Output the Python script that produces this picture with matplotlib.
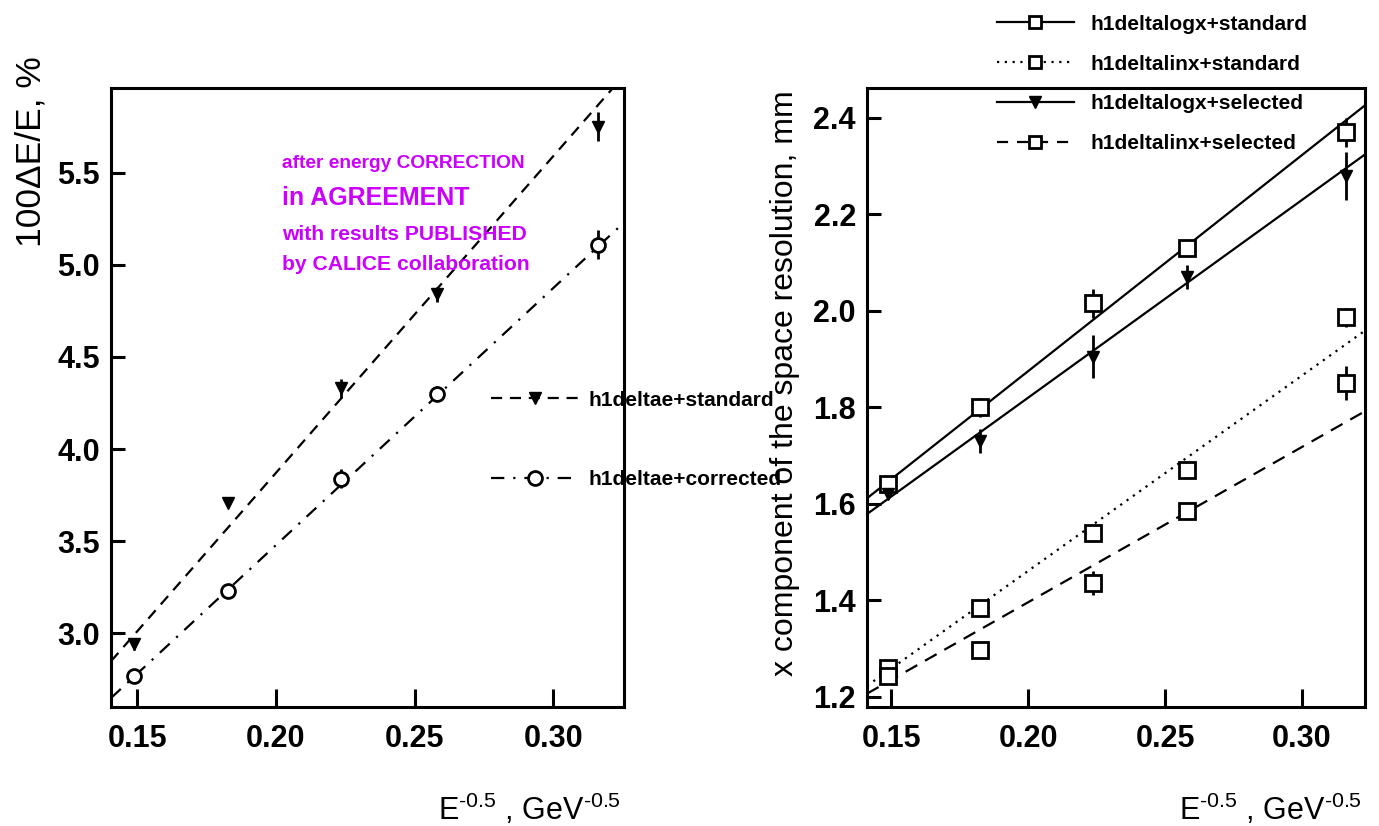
import numpy as np
import matplotlib
matplotlib.use("Agg")
import matplotlib.pyplot as plt

plt.rcParams['font.family'] = ['Liberation Sans', 'DejaVu Sans']
plt.rcParams['mathtext.fontset'] = 'custom'
plt.rcParams['mathtext.rm'] = 'Liberation Sans'

# E^-0.5 for beam energies 45, 30, 20, 15, 10 GeV
x_e = [0.149, 0.1826, 0.2236, 0.2582, 0.3162]

# left panel: energy resolution, %
res_standard = [2.94, 3.71, 4.33, 4.84, 5.75]
err_standard = [0.03, 0.02, 0.05, 0.04, 0.08]
res_corrected = [2.77, 3.23, 3.84, 4.30, 5.11]
err_corrected = [0.03, 0.02, 0.05, 0.04, 0.08]
fit_standard = (17.2, 0.43)     # slope, intercept
fit_corrected = (13.96, 0.686)

# right panel: x component of space resolution, mm
logx_standard = [1.641, 1.800, 2.016, 2.130, 2.370]
logx_standard_err = [0.01, 0.02, 0.03, 0.015, 0.03]
linx_standard = [1.260, 1.384, 1.540, 1.670, 1.987]
linx_standard_err = [0.01, 0.01, 0.015, 0.01, 0.02]
logx_selected = [1.620, 1.730, 1.905, 2.070, 2.280]
logx_selected_err = [0.01, 0.025, 0.045, 0.025, 0.05]
linx_selected = [1.243, 1.298, 1.436, 1.585, 1.850]
linx_selected_err = [0.015, 0.01, 0.025, 0.015, 0.035]
fit_logx_standard = (4.48, 0.979)
fit_linx_standard = (4.05, 0.651)
fit_logx_selected = (4.10, 1.000)
fit_linx_selected = (3.22, 0.752)

note_lines = ["after energy CORRECTION", "in AGREEMENT",
              "with results PUBLISHED", "by CALICE collaboration"]

MAG = '#cc00ff'
XLABEL = r'E$^{\text{-0.5}}$ , GeV$^{\text{-0.5}}$'

fig = plt.figure(figsize=(13.79, 8.26), dpi=100)
axL = fig.add_axes([111/1379, 1-707/826, (624-111)/1379, (707-88)/826])
axR = fig.add_axes([867/1379, 1-707/826, (1365-867)/1379, (707-88)/826])


def style_axes(ax):
    for s in ax.spines.values():
        s.set_linewidth(2.2)
    ax.tick_params(axis='both', which='major', direction='in', width=2.2,
                   labelsize=22, right=False, top=False)
    ax.tick_params(axis='y', length=10, pad=8)
    ax.tick_params(axis='x', length=13, pad=12)
    for lab in ax.get_xticklabels() + ax.get_yticklabels():
        lab.set_fontweight('bold')


def fit_line(ax, fit, xlim, **kw):
    xx = np.array(xlim)
    ax.plot(xx, fit[0]*xx + fit[1], color='black', lw=1.6, **kw)


# ---- left panel
xlimL = (0.1406, 0.3255)
fit_line(axL, fit_standard, xlimL, ls=(0, (5, 3.5)))
fit_line(axL, fit_corrected, xlimL, ls=(0, (6, 4, 1, 4)))
axL.errorbar(x_e, res_standard, yerr=err_standard, fmt='v', color='black',
             ms=9, elinewidth=2, capsize=0, ls='none')
axL.errorbar(x_e, res_corrected, yerr=err_corrected, fmt='o', color='black',
             mfc='white', mew=2, ms=10, elinewidth=2, capsize=0, ls='none')
axL.set_xlim(*xlimL)
axL.set_ylim(2.60, 5.96)
axL.set_xticks([0.15, 0.20, 0.25, 0.30])
axL.set_xticklabels(['0.15', '0.20', '0.25', '0.30'])
axL.set_yticks([3.0, 3.5, 4.0, 4.5, 5.0, 5.5])
axL.set_yticklabels(['3.0', '3.5', '4.0', '4.5', '5.0', '5.5'])
style_axes(axL)

hL1, = axL.plot([], [], color='black', lw=1.6, ls=(0, (5, 3.5)), marker='v', ms=9)
hL2, = axL.plot([], [], color='black', lw=1.6, ls=(0, (6, 4, 1, 4)), marker='o',
                mfc='white', mew=2, ms=10)
legL = fig.legend([hL1, hL2], ['h1deltae+standard', 'h1deltae+corrected'],
                  loc='upper left', bbox_to_anchor=(472/1379, 1-372/826),
                  frameon=False, handlelength=4.2, handletextpad=0.5,
                  labelspacing=2.9, prop={'weight': 'bold', 'size': 15})

sizes = [13.8, 18, 15.2, 15.2]
ys = [163, 198, 234, 265]
for t, s, y in zip(note_lines, sizes, ys):
    fig.text(282/1379, 1-y/826, t, color=MAG, fontsize=s, fontweight='bold',
             ha='left', va='center')

fig.text(31/1379, 1-56/826, '100\u0394E/E, %', rotation=90, fontsize=25.5,
         ha='center', va='top')
fig.text(621/1379, 1-820/826, XLABEL, fontsize=22, ha='right', va='baseline')

# ---- right panel
xlimR = (0.1412, 0.323)
fit_line(axR, fit_logx_standard, xlimR, ls='-')
fit_line(axR, fit_logx_selected, xlimR, ls='-')
fit_line(axR, fit_linx_standard, xlimR, ls=(0, (1, 2.5)))
fit_line(axR, fit_linx_selected, xlimR, ls=(0, (6, 4)))
sq = dict(fmt='s', color='black', mfc='white', mew=2, ms=11, elinewidth=2,
          capsize=0, ls='none')
axR.errorbar(x_e, logx_standard, yerr=logx_standard_err, **sq)
axR.errorbar(x_e, linx_standard, yerr=linx_standard_err, **sq)
axR.errorbar(x_e, linx_selected, yerr=linx_selected_err, **sq)
axR.errorbar(x_e, logx_selected, yerr=logx_selected_err, fmt='v', color='black',
             ms=9, elinewidth=2, capsize=0, ls='none')
axR.set_xlim(*xlimR)
axR.set_ylim(1.179, 2.462)
axR.set_xticks([0.15, 0.20, 0.25, 0.30])
axR.set_xticklabels(['0.15', '0.20', '0.25', '0.30'])
axR.set_yticks([1.2, 1.4, 1.6, 1.8, 2.0, 2.2, 2.4])
axR.set_yticklabels(['1.2', '1.4', '1.6', '1.8', '2.0', '2.2', '2.4'])
style_axes(axR)

hR1, = axR.plot([], [], color='black', lw=1.6, ls='-', marker='s',
                mfc='white', mew=2, ms=9)
hR2, = axR.plot([], [], color='black', lw=1.6, ls=(0, (1, 2.5)), marker='s',
                mfc='white', mew=2, ms=9)
hR3, = axR.plot([], [], color='black', lw=1.6, ls='-', marker='v', ms=9)
hR4, = axR.plot([], [], color='black', lw=1.6, ls=(0, (5, 4)), marker='s',
                mfc='white', mew=2, ms=9)
legR = fig.legend([hR1, hR2, hR3, hR4],
                  ['h1deltalogx+standard', 'h1deltalinx+standard',
                   'h1deltalogx+selected', 'h1deltalinx+selected'],
                  loc='upper left', bbox_to_anchor=(978/1379, 1+4/826),
                  frameon=False, handlelength=3.7, handletextpad=0.8,
                  labelspacing=1.0, prop={'weight': 'bold', 'size': 15})

fig.text(785/1379, 1-90/826, 'x component of the space resolution, mm',
         rotation=90, fontsize=23, ha='center', va='top')
fig.text(1362/1379, 1-820/826, XLABEL, fontsize=22, ha='right', va='baseline')

fig.savefig('out.png', dpi=100)
